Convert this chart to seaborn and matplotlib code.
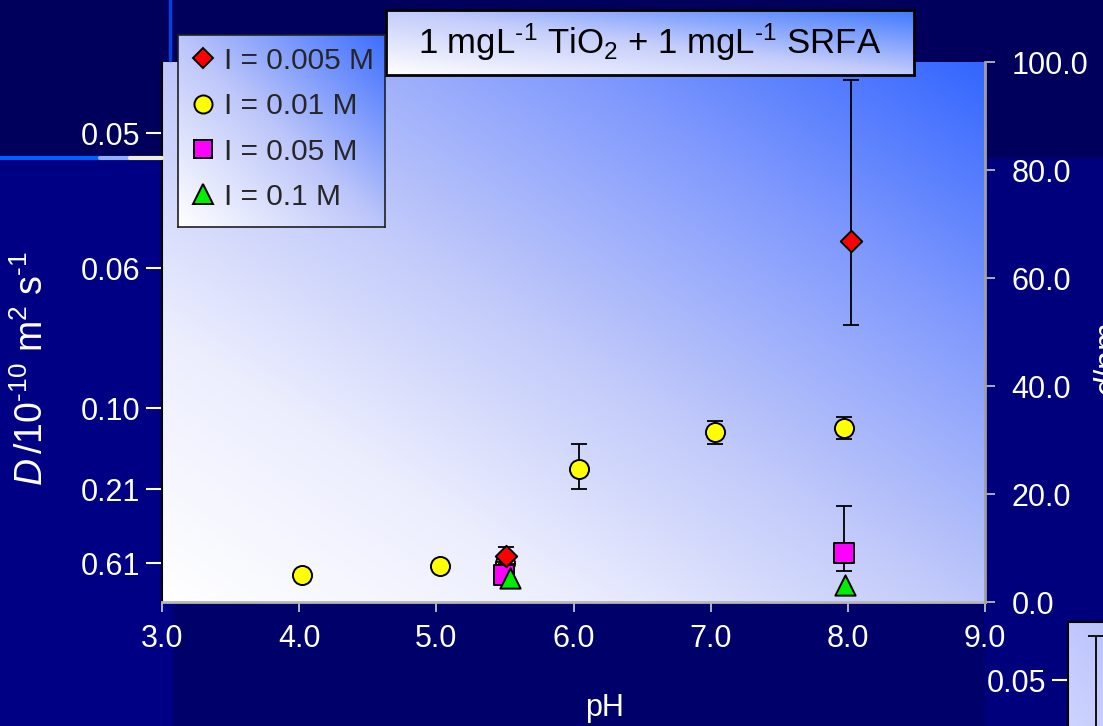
import numpy as np
import matplotlib
matplotlib.use("Agg")
import matplotlib.pyplot as plt
import seaborn as sns
from matplotlib.lines import Line2D
from matplotlib.patches import Rectangle
from matplotlib.colors import LinearSegmentedColormap

# data (pH vs hydrodynamic diameter d / nm)
ph_0005 = [5.51, 8.02]
d_0005 = [8.5, 66.9]
lo_0005 = [1.5, 15.6]
hi_0005 = [1.7, 29.8]

ph_001 = [4.02, 5.03, 5.50, 6.04, 7.03, 7.97]
d_001 = [5.0, 6.7, 7.2, 24.6, 31.5, 32.3]
lo_001 = [0.3, 0.5, 0.5, 3.6, 2.3, 2.1]
hi_001 = [0.3, 0.5, 0.5, 4.6, 2.0, 2.0]

ph_005 = [5.49, 7.97]
d_005 = [5.0, 9.0]
lo_005 = [1.0, 3.2]
hi_005 = [2.4, 8.7]

ph_01 = [5.54, 7.98]
d_01 = [4.4, 3.2]

x_ticks = [3, 4, 5, 6, 7, 8, 9]
d_ticks = [0, 20, 40, 60, 80, 100]
# left axis: diffusion coefficient labels placed at the matching d values
D_tick_pos = [86.8, 61.8, 35.9, 20.9, 7.2]
D_tick_labels = ["0.05", "0.06", "0.10", "0.21", "0.61"]

sns.set_style("white")
plt.rcParams['font.family'] = ['Liberation Sans', 'DejaVu Sans']
plt.rcParams['mathtext.fontset'] = 'custom'
plt.rcParams['mathtext.rm'] = 'Liberation Sans'
plt.rcParams['mathtext.it'] = 'Liberation Sans:italic'

W, H = 1103, 726
fig = plt.figure(figsize=(W / 100, H / 100), dpi=100, facecolor='#00006a')


def box(x0, y0, x1, y1):
    # pixel box (top-left origin) -> figure rect
    return [x0 / W, 1 - y1 / H, (x1 - x0) / W, (y1 - y0) / H]


def gradient(stops):
    n = 256
    xx, yy = np.meshgrid(np.linspace(0, 1, n), np.linspace(0, 1, n))
    t = (xx + yy) / 2
    cmap = LinearSegmentedColormap.from_list("g", stops)
    return cmap(t)


# slide background pieces
fig.add_artist(Rectangle((0, 1 - 158 / H), 1, 158 / H, transform=fig.transFigure,
                         color='#00005c', zorder=-10))
fig.add_artist(Rectangle((0, 0), 172 / W, 1 - 158 / H, transform=fig.transFigure,
                         color='#000084', zorder=-10))
fig.add_artist(Rectangle((985 / W, 0), 1 - 985 / W, 1 - 158 / H, transform=fig.transFigure,
                         color='#00007c', zorder=-10))
fig.add_artist(Line2D([0, 100 / W], [1 - 158 / H] * 2, transform=fig.transFigure,
                      color='#0060ff', lw=3))
fig.add_artist(Line2D([100 / W, 130 / W], [1 - 158 / H] * 2, transform=fig.transFigure,
                      color='#8fb0ff', lw=3))
fig.add_artist(Line2D([130 / W, 162 / W], [1 - 158 / H] * 2, transform=fig.transFigure,
                      color='#f0eed4', lw=3))
fig.add_artist(Line2D([170 / W] * 2, [1, 1 - 60 / H], transform=fig.transFigure,
                      color='#0044e0', lw=2.5))

# main plot
ax = fig.add_axes(box(162, 62, 985, 602))
plot_stops = [(0, '#ffffff'), (0.25, '#eceefe'), (0.5, '#bec7fa'),
              (0.75, '#8099fd'), (1, '#3366ff')]
ax.imshow(gradient(plot_stops), extent=[3, 9, 0, 100],
          aspect='auto', origin='lower', zorder=0)
ax.set_xlim(3, 9)
ax.set_ylim(0, 100)

series = [
    (ph_001, d_001, lo_001, hi_001, 'o', 188, '#ffff00'),
    (ph_005, d_005, lo_005, hi_005, 's', 193, '#ff00ff'),
    (ph_01, d_01, None, None, '^', 213, '#00ee00'),
    (ph_0005, d_0005, lo_0005, hi_0005, 'D', 119, '#ff0000'),
]
for i, (ph, d, lo, hi, mk, s, col) in enumerate(series):
    z = 3 + i
    if lo is not None:
        ax.errorbar(ph, d, yerr=[lo, hi], fmt='none', ecolor='black', elinewidth=1.3,
                    capsize=5.5, capthick=1.3, zorder=z)
    sns.scatterplot(x=ph, y=d, marker=mk, s=s, color=col, edgecolor='black',
                    linewidth=1.4, ax=ax, zorder=z + 0.5, legend=False)

ax.set_xticks(x_ticks)
ax.set_xticklabels([f"{v:.1f}" for v in x_ticks])
ax.set_yticks(D_tick_pos)
ax.set_yticklabels(D_tick_labels)
ax.tick_params(axis='x', colors='#d0d0d0', length=7, width=1.2, pad=9,
               labelsize=22, labelcolor='white', direction='out', bottom=True)
ax.tick_params(axis='y', colors='white', length=11.5, width=1.5, pad=4,
               labelsize=22, labelcolor='white', direction='out', left=True)
ax.spines['top'].set_visible(False)
ax.spines['right'].set_visible(False)
ax.spines['left'].set_color('black')
ax.spines['left'].set_linewidth(1.5)
ax.spines['bottom'].set_color('#b8b8b8')
ax.spines['bottom'].set_linewidth(2)
ax.set_xlabel("")
ax.set_ylabel("")

ax2 = ax.twinx()
ax2.set_ylim(0, 100)
ax2.set_yticks(d_ticks)
ax2.set_yticklabels([f"{v:.1f}" for v in d_ticks])
ax2.tick_params(axis='y', colors='#c8c8c8', length=7, width=1.2, pad=12,
                labelsize=22, labelcolor='white', direction='out', right=True)
for sp in ['top', 'left', 'bottom']:
    ax2.spines[sp].set_visible(False)
ax2.spines['right'].set_color('#a0a0a0')
ax2.spines['right'].set_linewidth(2)

fig.text(32 / W, 1 - 368 / H, r"$D\,$/10$^{\text{-10}}$ m$^2$ s$^{\text{-1}}$", rotation=90,
         color='white', fontsize=27, ha='center', va='center')
# right axis title sits mostly off the slide edge, as in the reference
fig.text(1109 / W, 1 - 360 / H, r"$d$/nm", rotation=90,
         color='white', fontsize=24, ha='center', va='center')
fig.text(605 / W, 1 - 708 / H, "pH", color='white', fontsize=22,
         ha='center', va='center')

# title box
tax = fig.add_axes(box(386, 10, 914, 75))
tax.imshow(gradient([(0, '#ffffff'), (0.5, '#c4ccfb'), (1, '#3f78ff')]),
           extent=[0, 1, 0, 1], aspect='auto', origin='lower')
tax.set_xticks([])
tax.set_yticks([])
for sp in tax.spines.values():
    sp.set_color('black')
    sp.set_linewidth(2)
tax.text(0.5, 0.5, r"1 mgL$^{\text{-1}}$ TiO$_2$ + 1 mgL$^{\text{-1}}$ SRFA",
         transform=tax.transAxes, ha='center', va='center', fontsize=25, color='black')

# legend box
lax = fig.add_axes(box(178, 35, 385, 227))
lax.imshow(gradient([(0, '#ffffff'), (0.5, '#bcc5fa'), (1, '#3c6eff')]),
           extent=[0, 1, 0, 1], aspect='auto', origin='lower')
lax.set_xticks([])
lax.set_yticks([])
for sp in lax.spines.values():
    sp.set_color('#202020')
    sp.set_linewidth(1.2)
handles = [
    Line2D([], [], ls='none', marker='D', ms=10.5, mfc='#ff0000', mec='black', mew=1.4),
    Line2D([], [], ls='none', marker='o', ms=13, mfc='#ffff00', mec='black', mew=1.4),
    Line2D([], [], ls='none', marker='s', ms=13, mfc='#ff00ff', mec='black', mew=1.4),
    Line2D([], [], ls='none', marker='^', ms=14, mfc='#00ee00', mec='black', mew=1.4),
]
labels = ["I = 0.005 M", "I = 0.01 M", "I = 0.05 M", "I = 0.1 M"]
lax.legend(handles, labels, loc='upper left', frameon=False, fontsize=21.5,
           handlelength=0.9, handletextpad=0.25, labelspacing=0.58,
           borderaxespad=0.1, borderpad=0.3)

# cropped neighbouring chart in the bottom-right corner
inset_x = [0.21]
inset_y = [0.0]
inset_hi = [0.92]
iax = fig.add_axes(box(1068, 622, 1200, 800))
iax.imshow(gradient([(0, '#d8dcff'), (1, '#aab4fb')]), extent=[0, 1, 0, 1],
           aspect='auto', origin='lower')
iax.set_xlim(0, 1)
iax.set_ylim(0, 1)
iax.errorbar(inset_x, inset_y, yerr=[[0], inset_hi], fmt='none', ecolor='black',
             elinewidth=1.3, capsize=5.5, capthick=1.3)
iax.set_xticks([])
iax.set_yticks([0.674])
iax.set_yticklabels(["0.05"])
iax.tick_params(axis='y', colors='white', length=11.5, width=1.5, pad=4,
                labelsize=22, labelcolor='white', left=True)
for sp in iax.spines.values():
    sp.set_color('black')
    sp.set_linewidth(1.5)

fig.savefig("out.png", dpi=100, facecolor=fig.get_facecolor())
